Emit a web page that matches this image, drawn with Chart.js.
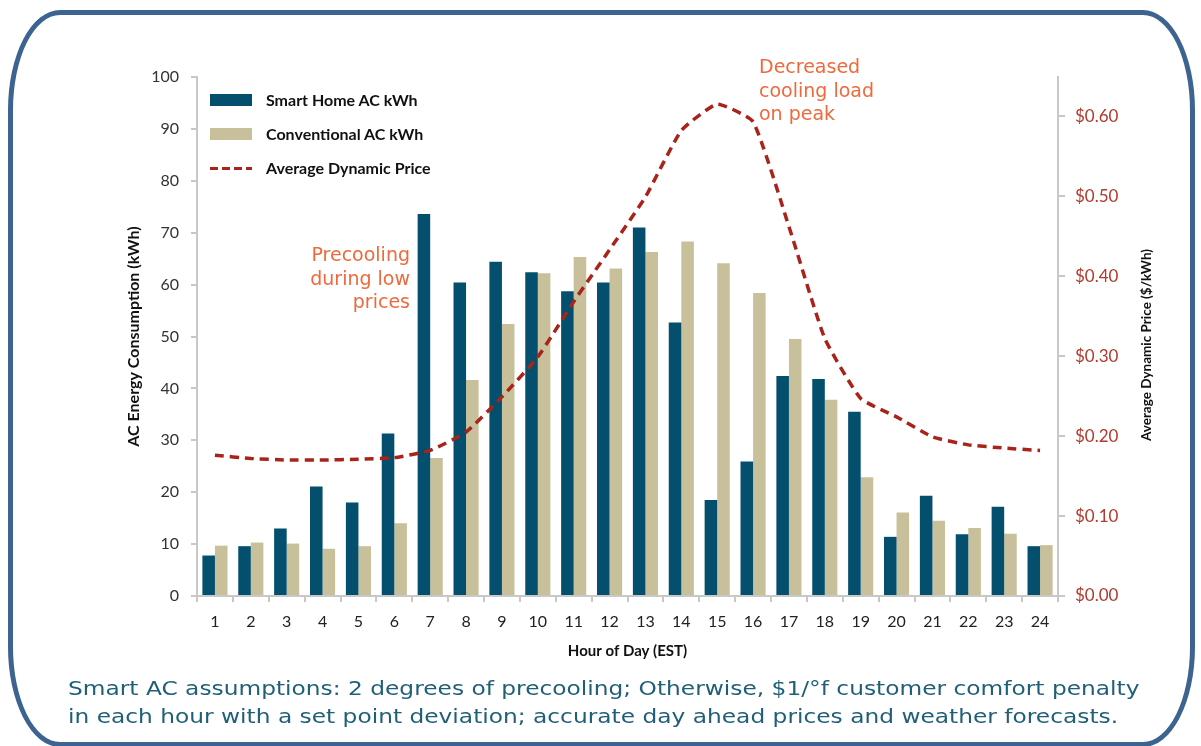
<!DOCTYPE html>
<html lang="en">
<head>
<meta charset="UTF-8">
<title>Smart Home AC vs Conventional AC</title>
<script src="https://cdn.jsdelivr.net/npm/chart.js"></script>
<style>
    body {
        margin: 0;
        background: #ffffff;
    }

    #wrap {
        position: relative;
        width: 1201px;
        height: 746px;
        overflow: hidden;
    }

    #frame {
        position: absolute;
        left: 8px;
        top: 10px;
        width: 1177px;
        height: 727px;
        border: 5px solid #3d6391;
        border-radius: 52px / 100px;
    }

    canvas {
        position: absolute;
        left: 0;
        top: 0;
    }

    .legend {
        position: absolute;
        left: 210px;
        font: bold 16px Lato, sans-serif;
        color: #111;
    }

    .legend div {
        position: relative;
        height: 34px;
        line-height: 34px;
        padding-left: 56px;
    }

    .legend span {
        position: absolute;
        left: 0;
        top: 11px;
        width: 42px;
        height: 12px;
    }

    .legend span.dash {
        top: 16px;
        height: 3px;
        background: repeating-linear-gradient(90deg, #a8231a 0 8px, transparent 8px 12px);
    }

    .note {
        position: absolute;
        font: 19px "DejaVu Sans", Verdana, sans-serif;
        color: #ee6a3c;
        line-height: 23.5px;
    }

    #footer {
        position: absolute;
        left: 68px;
        top: 674px;
        font: 19px "DejaVu Sans", Verdana, sans-serif;
        color: #1f5f78;
        line-height: 28px;
        white-space: nowrap;
        transform-origin: 0 0;
    }
</style>
</head>
<body>
<div id="wrap">
    <div id="frame"></div>
    <canvas id="chart" width="1201" height="746"></canvas>

    <div class="legend" style="top: 83px;">
        <div><span style="background: #044f6e;"></span>Smart Home AC kWh</div>
        <div><span style="background: #c7c09a;"></span>Conventional AC kWh</div>
        <div><span class="dash"></span>Average Dynamic Price</div>
    </div>

    <div class="note" style="left: 286px; top: 243px; width: 124px; text-align: right;">Precooling<br>during low<br>prices</div>
    <div class="note" style="left: 759px; top: 55px;">Decreased<br>cooling load<br>on peak</div>

    <div id="footer">Smart AC assumptions: 2 degrees of precooling; Otherwise, $1/°f customer comfort penalty<br>in each hour with a set point deviation; accurate day ahead prices and weather forecasts.</div>
</div>

<script>
    // hours and values
    const hours = ['1', '2', '3', '4', '5', '6', '7', '8', '9', '10', '11', '12',
        '13', '14', '15', '16', '17', '18', '19', '20', '21', '22', '23', '24'];

    const smartKwh = [7.8, 9.6, 13.0, 21.1, 18.0, 31.3, 73.6, 60.4, 64.4, 62.4, 58.7, 60.4,
        71.0, 52.7, 18.5, 25.9, 42.4, 41.8, 35.5, 11.4, 19.3, 11.9, 17.2, 9.6];

    const conventionalKwh = [9.7, 10.3, 10.1, 9.1, 9.6, 14.0, 26.6, 41.6, 52.4, 62.2, 65.3, 63.1,
        66.3, 68.3, 64.1, 58.4, 49.5, 37.8, 22.9, 16.1, 14.5, 13.1, 12.0, 9.8];

    const avgPrice = [0.176, 0.172, 0.170, 0.170, 0.171, 0.173, 0.182, 0.205, 0.249, 0.299, 0.368, 0.433,
        0.499, 0.582, 0.615, 0.593, 0.462, 0.322, 0.247, 0.224, 0.199, 0.189, 0.185, 0.182];

    const axisGrey = '#c8c8c8';
    const tickFont = { family: 'Lato', size: 16 };

    // stretch the footnote to the same width as in the original
    const footer = document.getElementById('footer');
    footer.style.transform = 'scaleX(' + (1072 / footer.offsetWidth) + ')';

    // right axis title reads bottom-to-top, so draw it by hand
    const rightTitle = {
        id: 'rightTitle',
        afterDraw(chart) {
            const ctx = chart.ctx;
            ctx.save();
            ctx.translate(1147, 345);
            ctx.rotate(-Math.PI / 2);
            ctx.font = 'bold 13.5px Lato';
            ctx.fillStyle = '#111';
            ctx.textAlign = 'center';
            ctx.textBaseline = 'middle';
            ctx.fillText('Average Dynamic Price ($/kWh)', 0, 0);
            ctx.restore();
        }
    };

    new Chart(document.getElementById('chart'), {
        data: {
            labels: hours,
            datasets: [{
                type: 'line',
                label: 'Average Dynamic Price',
                data: avgPrice,
                yAxisID: 'y1',
                borderColor: '#a8231a',
                borderWidth: 3.5,
                borderDash: [9, 6],
                pointRadius: 0,
                tension: 0.15,
                fill: false,
                order: 0
            }, {
                type: 'bar',
                label: 'Smart Home AC kWh',
                data: smartKwh,
                yAxisID: 'y',
                backgroundColor: '#044f6e',
                barPercentage: 1.0,
                categoryPercentage: 0.7,
                order: 1
            }, {
                type: 'bar',
                label: 'Conventional AC kWh',
                data: conventionalKwh,
                yAxisID: 'y',
                backgroundColor: '#c7c09a',
                barPercentage: 1.0,
                categoryPercentage: 0.7,
                order: 1
            }]
        },
        options: {
            responsive: false,
            animation: false,
            layout: {
                padding: { left: 120, right: 43, top: 77, bottom: 80 }
            },
            plugins: {
                legend: { display: false },
                tooltip: { enabled: false }
            },
            scales: {
                x: {
                    offset: true,
                    grid: { drawOnChartArea: false, tickLength: 6, color: axisGrey, lineWidth: 2 },
                    border: { color: axisGrey, width: 2 },
                    ticks: { font: tickFont, color: '#222', padding: 10, maxRotation: 0 },
                    title: {
                        display: true,
                        text: 'Hour of Day (EST)',
                        font: { family: 'Lato', size: 15, weight: 'bold' },
                        color: '#111',
                        padding: { top: 4, bottom: 6 }
                    },
                    afterFit(scale) { scale.height = 70; }
                },
                y: {
                    position: 'left',
                    min: 0,
                    max: 100,
                    grid: { drawOnChartArea: false, tickLength: 6, color: axisGrey, lineWidth: 2 },
                    border: { color: axisGrey, width: 2 },
                    ticks: { stepSize: 10, font: tickFont, color: '#333', padding: 12 },
                    title: {
                        display: true,
                        text: 'AC Energy Consumption (kWh)',
                        font: { family: 'Lato', size: 16, weight: 'bold' },
                        color: '#111',
                        padding: { top: 4, bottom: 4 }
                    },
                    afterFit(scale) { scale.width = 77; }
                },
                y1: {
                    position: 'right',
                    min: 0,
                    max: 0.649,
                    grid: { drawOnChartArea: false, tickLength: 7, color: axisGrey, lineWidth: 2 },
                    border: { color: axisGrey, width: 2 },
                    ticks: {
                        stepSize: 0.1,
                        includeBounds: false,
                        font: { family: 'Lato', size: 17 },
                        color: '#b03a2e',
                        padding: 10,
                        callback: v => (Math.round(v * 100) % 10 === 0 ? '$' + v.toFixed(2) : '')
                    },
                    afterFit(scale) { scale.width = 100; }
                }
            }
        },
        plugins: [rightTitle]
    });
</script>
</body>
</html>
